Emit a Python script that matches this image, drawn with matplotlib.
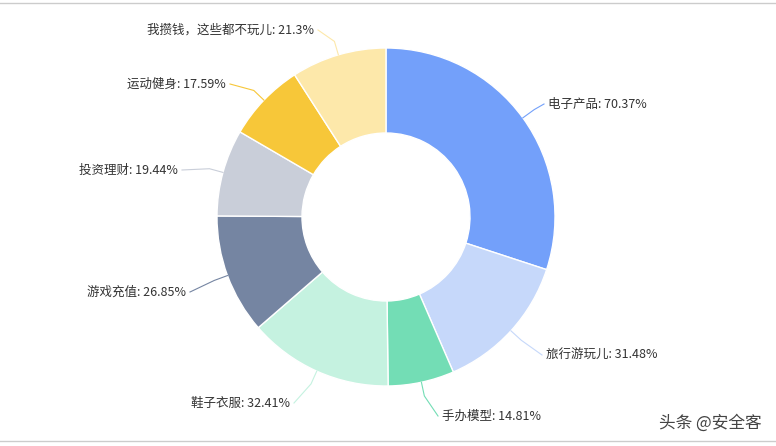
import matplotlib.pyplot as plt
import numpy as np

plt.rcParams['font.family'] = ['Noto Sans CJK SC', 'DejaVu Sans']

names = ['电子产品', '旅行游玩儿', '手办模型', '鞋子衣服', '游戏充值', '投资理财', '运动健身', '我攒钱，这些都不玩儿']
values = [70.37, 31.48, 14.81, 32.41, 26.85, 19.44, 17.59, 21.3]
label_text = ['70.37%', '31.48%', '14.81%', '32.41%', '26.85%', '19.44%', '17.59%', '21.3%']
colors = ['#73a0fa', '#c6d8fa', '#73ddb5', '#c5f2e0', '#7585a2', '#c9ced9', '#f7c739', '#fde8aa']

W, H = 776, 446
fig = plt.figure(figsize=(7.76, 4.46), dpi=100)
ax = fig.add_axes([0, 0, 1, 1])
ax.set_xlim(0, W)
ax.set_ylim(H, 0)
ax.axis('off')

cx, cy, R, r = 386, 217, 169, 84
total = sum(values)
# clockwise from top; y axis inverted so angles measured downwards
wedges, _ = ax.pie(values, colors=colors, startangle=-90, counterclock=True,
                   center=(cx, cy), radius=R, frame=True,
                   wedgeprops=dict(width=R - r, edgecolor='white', linewidth=1))
ax.set_xlim(0, W)
ax.set_ylim(H, 0)
ax.set_aspect('equal')
ax.axis('off')

# label anchors (text end points), alignment
lab_pos = [(548, 104, 'left'), (546, 355, 'left'), (442, 416, 'left'), (290, 403, 'right'),
           (186, 292, 'right'), (178, 170, 'right'), (226, 84, 'right'), (314, 30, 'right')]
cum = 0
for i, v in enumerate(values):
    mid = (cum + v / 2) / total * 2 * np.pi
    cum += v
    sx, sy = cx + R * np.sin(mid), cy - R * np.cos(mid)
    ex, ey = cx + (R + 14) * np.sin(mid), cy - (R + 14) * np.cos(mid)
    tx, ty, ha = lab_pos[i]
    lx = tx - 4 if ha == 'left' else tx + 4
    ax.plot([sx, ex, lx], [sy, ey, ty], color=colors[i], lw=0.8)
    ax.text(tx, ty, f'{names[i]}: {label_text[i]}', ha=ha, va='center', fontsize=9, color='#333333')

ax.plot([0, W], [3, 3], color='#cccccc', lw=1)
ax.plot([0, W], [441, 441], color='#cccccc', lw=1)
ax.text(762, 423, '头条 @安全客', ha='right', va='center', fontsize=12, color='#444444')

fig.savefig('out.png', dpi=100)
